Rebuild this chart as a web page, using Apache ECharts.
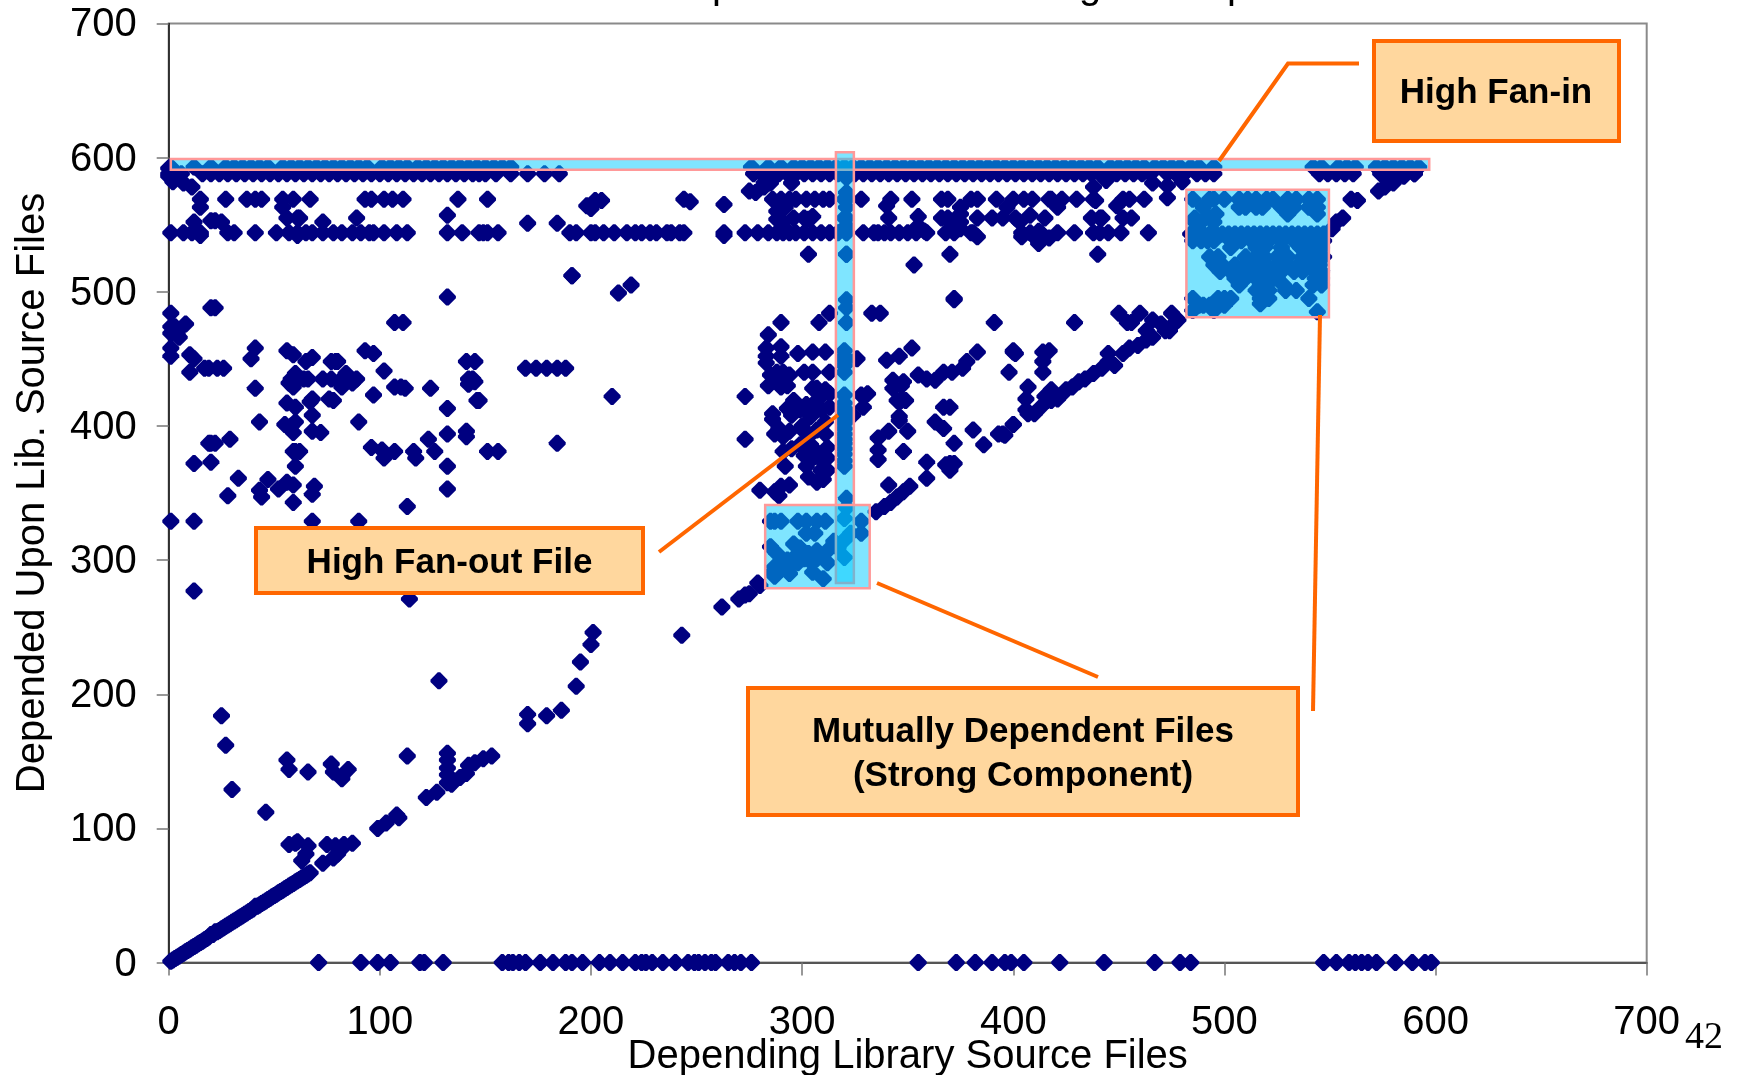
<!DOCTYPE html>
<html><head><meta charset="utf-8">
<style>html,body{margin:0;padding:0;background:#fff}#c{width:1738px;height:1075px}</style>
<script src="https://cdn.jsdelivr.net/npm/echarts@6/dist/echarts.min.js"></script>
</head><body><div id="c"></div>
<script>
const xTicks=[0,100,200,300,400,500,600,700];
const xTitle='Depending Library Source Files';
const yTitle='Depended Upon Lib. Source Files';
// dependency rows (x values for one y)
const row593=[1,12,20,27,31,35,39,43,47,54,58,62,66,70,74,78,82,86,90,94,101,105,109,113,118,122,126,130,134,138,142,146,150,154,158,162,276,284,290,296,300,304,308,312,316,320,324,328,332,336,340,344,348,352,356,360,364,368,372,376,380,384,388,392,396,400,404,408,412,416,420,424,428,432,436,440,446,450,454,458,462,467,471,475,479,484,488,495,542,546,554,558,562,572,576,580,584,588,592];
const row588=[0,3,6,16,20,24,28,32,36,40,44,48,52,56,60,64,68,72,76,80,84,88,92,96,100,104,108,112,116,120,124,128,132,136,140,144,147,150,155,162,170,178,185,277,281,285,289,293,297,301,305,309,313,317,321,325,329,333,337,341,345,349,353,357,361,365,369,373,377,381,385,389,393,397,401,405,409,413,417,421,425,429,433,437,441,445,449,453,457,461,465,473,477,481,487,491,495,545,549,553,557,561,574,578,582,586,590];
const row569=[15,27,37,41,44,54,59,67,93,96,102,106,111,137,151,244,286,290,294,297,302,306,310,313,320,328,342,352,366,369,380,383,392,400,405,409,418,417,423,430,452,455,462,438];
const row555=[56,61,62,89,301,296,320,341,366,369,383,401,415,437,441,452,456,390,395];
const row544=[1,7,11,15,28,31,41,51,57,61,65,68,73,78,82,87,91,95,97,102,108,113,132,139,147,149,151,156,190,193,200,202,206,211,217,221,224,228,231,236,238,242,244,263,273,279,284,288,291,294,297,301,305,309,313,317,321,329,334,336,339,342,346,350,354,359,368,372,380,404,408,413,421,429,438,441,445,451,464];
const row0=[71,91,99,105,119,121,130,158,161,163,166,169,176,182,188,191,196,204,209,215,221,224,226,229,234,240,246,249,251,254,257,259,265,268,271,276,355,373,382,390,396,399,405,422,443,467,479,484,547,553,559,562,565,568,572,581,589,595,598];
const row443=[169,174,179,184,188];
const topCluster=[[0,592],[0,586],[2,582],[7,581],[11,578],[15,563],[54,563],[12,552],[20,553],[22,553],[25,552],[73,552],[132,557],[15,542],[61,542],[170,551],[184,551],[198,564],[200,562],[202,568],[205,568],[191,512],[219,505],[213,499],[247,567],[263,565],[263,542],[282,581],[278,574],[282,586],[285,581],[282,578],[340,564],[288,560],[292,563],[288,554],[291,552],[303,554],[305,556],[355,556],[355,549],[375,563],[375,558],[375,552],[375,547],[381,544],[383,541],[397,563],[403,552],[408,557],[404,541],[410,541],[414,541],[417,540],[412,545],[412,536],[438,578],[439,568],[444,583],[466,581],[473,579],[480,582],[473,570],[421,563],[449,564],[442,555],[303,528],[321,528],[370,528],[353,520],[372,495],[440,528],[295,581],[275,575],[553,552],[556,555],[551,547],[560,569],[563,568],[573,575],[576,578],[580,581],[585,586],[590,588],[132,496],[358,545],[370,552]];
const fanOutColumn=[[321,585],[321,574],[321,569],[321,563],[321,555],[321,549],[321,544],[321,528],[321,494],[321,488],[321,477],[320,456],[320,452],[320,449],[320,445],[320,440],[320,423],[320,417],[320,413],[320,409],[320,405],[320,402],[320,398],[320,394],[320,390],[320,387],[320,383],[320,379],[320,374],[320,370],[321,346],[321,339]];
const leftCluster=[[1,484],[20,488],[22,488],[1,474],[3,474],[8,476],[1,469],[5,466],[4,469],[1,458],[1,452],[10,453],[12,450],[10,440],[17,443],[19,443],[23,443],[26,443],[41,458],[39,450],[41,428],[43,403],[56,456],[59,453],[65,448],[68,451],[79,448],[77,448],[80,448],[93,456],[97,454],[102,441],[107,477],[111,477],[58,435],[60,439],[64,435],[66,435],[59,429],[57,432],[73,435],[77,435],[82,435],[84,439],[82,429],[87,432],[88,434],[89,435],[56,417],[60,414],[68,420],[67,418],[76,420],[78,419],[97,423],[68,408],[90,403],[55,401],[58,400],[60,403],[59,395],[68,396],[72,395],[20,387],[22,387],[19,387],[29,390],[107,429],[110,429],[112,428],[124,428],[132,413],[60,381],[59,381],[62,381],[60,370],[12,372],[20,373],[96,384],[101,382],[102,376],[107,381],[116,381],[117,376],[123,390],[126,381],[132,394],[141,396],[141,392],[132,370],[132,353],[33,361],[47,360],[43,352],[44,347],[52,353],[56,358],[59,356],[69,355],[68,349],[59,343],[28,348],[113,340],[1,329],[12,329],[68,329],[90,329],[141,448],[145,448],[142,435],[145,433],[142,431],[146,419],[144,435],[147,419],[151,381],[156,381],[210,422],[184,387],[273,422],[273,390],[191,512],[114,271],[12,277]];
const midCluster=[[290,477],[308,477],[313,484],[333,484],[337,484],[391,477],[372,494],[284,468],[283,458],[283,452],[283,447],[290,459],[290,452],[298,454],[305,455],[311,455],[326,450],[313,440],[340,449],[346,452],[352,458],[383,455],[400,455],[417,456],[414,455],[414,448],[414,440],[398,440],[355,438],[359,435],[363,434],[367,440],[371,440],[376,443],[378,448],[343,434],[348,433],[343,428],[347,430],[285,438],[288,440],[291,440],[294,438],[301,440],[305,440],[284,430],[290,429],[293,430],[288,433],[291,433],[307,428],[311,427],[313,424],[309,422],[305,428],[328,423],[331,424],[329,414],[324,408],[347,419],[349,419],[345,419],[346,407],[346,404],[367,414],[370,414],[363,403],[367,398],[381,397],[393,394],[395,394],[386,386],[400,401],[341,396],[350,396],[336,391],[336,382],[336,375],[348,381],[372,387],[359,373],[359,361],[370,372],[368,371],[372,372],[370,367],[341,356],[286,409],[286,405],[296,419],[293,413],[299,412],[307,419],[309,412],[313,414],[304,407],[311,403],[289,398],[287,394],[294,396],[291,392],[301,396],[307,397],[311,394],[291,381],[295,383],[292,370],[306,382],[309,375],[306,377],[312,384],[302,370],[309,367],[303,362],[307,358],[312,367],[280,352],[287,351],[290,355],[294,356],[289,348],[300,400],[303,392],[299,386],[304,386],[301,378],[312,376],[310,360],[296,415],[302,416],[295,408],[305,410]];
const smallBlock=[[285,329],[287,329],[290,329],[298,329],[302,329],[307,329],[311,329],[320,331],[328,329],[328,320],[306,320],[302,320],[285,310],[296,312],[288,305],[299,309],[293,300],[303,305],[307,307],[312,307],[315,314],[287,295],[290,293],[287,288],[294,290],[298,298],[305,291],[310,286],[312,298],[320,302],[320,315],[323,320],[293,293],[286,291],[291,297],[301,301],[297,303],[307,301],[304,299],[317,309]];
const bigBlockA=[[485,569],[493,569],[495,569],[500,569],[507,569],[511,569],[515,569],[520,569],[523,569],[530,569],[534,569],[540,569],[544,569],[490,563],[507,563],[510,563],[515,563],[518,563],[527,563],[533,563],[540,563],[544,563],[496,558],[530,558],[544,558],[486,555],[493,555],[486,552],[489,552],[495,552]];
const bigBlockB=[484,487,490,493,496,499,502,505,508,511,514,517,520,523,526,529,532,535,538,541,544,547];
const bigBlockC=[[485,538],[489,538],[492,538],[495,538],[503,538],[508,538],[513,538],[517,538],[521,538],[527,538],[533,538],[539,538],[544,538],[547,538],[503,533],[515,533],[519,533],[527,533],[536,533],[541,533],[546,533],[493,526],[497,526],[510,526],[515,526],[519,526],[525,526],[530,526],[537,526],[543,526],[547,526],[495,520],[499,520],[505,520],[510,520],[515,520],[520,520],[525,520],[530,520],[535,520],[540,520],[545,520],[498,515],[503,515],[508,515],[513,515],[517,515],[522,515],[527,515],[533,515],[537,515],[543,515],[546,515],[505,510],[510,510],[515,510],[520,510],[525,510],[543,510],[546,510],[507,505],[517,505],[520,505],[528,505],[542,505],[546,505],[515,501],[521,501],[529,501],[534,501],[517,495],[521,495],[540,495],[517,491],[544,485],[485,495],[490,490],[485,486],[495,486],[497,495],[500,495],[493,490],[500,490],[503,495],[488,490]];
const diagonal=[[1,1],[2,2],[3,3],[4,4],[5,5],[6,6],[7,7],[8,8],[9,9],[10,10],[11,11],[12,12],[13,13],[14,14],[15,15],[16,16],[17,17],[18,18],[19,19],[20,21],[21,21],[22,23],[23,23],[24,24],[25,25],[26,26],[27,27],[28,28],[29,29],[30,30],[31,31],[32,32],[33,33],[34,34],[35,35],[36,36],[37,37],[38,38],[39,39],[40,40],[41,42],[42,42],[43,43],[44,44],[45,45],[46,46],[47,47],[48,48],[49,49],[50,50],[51,51],[52,52],[53,53],[54,54],[55,55],[56,56],[57,57],[58,58],[59,59],[60,60],[61,61],[62,62],[63,63],[64,64],[65,65],[66,66],[67,67],[73,74],[63,76],[65,81],[60,89],[61,90],[66,87],[57,88],[75,88],[78,78],[79,87],[82,85],[83,88],[87,89],[80,81],[99,100],[103,104],[108,110],[109,108],[122,123],[127,127],[132,156],[132,151],[132,145],[132,140],[132,134],[134,133],[138,138],[141,141],[142,147],[145,149],[149,152],[153,154],[170,185],[170,178],[179,184],[186,188],[193,206],[195,224],[200,237],[201,246],[243,244],[262,265],[270,271],[273,274],[280,281],[279,283],[275,275],[335,336],[339,340],[342,343],[345,347],[348,351],[351,355],[396,393],[400,401],[407,409],[410,409],[413,414],[416,423],[418,419],[421,420],[424,425],[428,429],[431,433],[434,435],[438,439],[442,443],[445,454],[445,448],[448,445],[452,454],[455,458],[459,460],[463,464],[466,466],[407,429],[406,420],[406,412],[415,422],[418,427],[421,422],[425,427],[401,454],[400,456],[450,484],[454,477],[460,484],[456,477],[466,479],[463,471],[475,484],[478,479],[474,471],[470,476],[472,471],[476,476],[429,477]];
const lowOutliers=[[25,184],[27,162],[30,129],[46,112],[56,151],[57,144],[66,142],[77,148],[78,142],[82,137],[85,144],[113,154],[128,210]];
// highlighted regions: [x1,y1,x2,y2]
const fanInRegion=[1,599,597,591];
const fanOutRegion=[316,604,324.5,283];
const strongRegionA=[282.5,341,332,279];
const strongRegionB=[482,576,549.5,481];
// call-out leader lines and boxes
const calloutStyle={fill:'#FFD79E',stroke:'#FF6600',lineWidth:4};
const boxes=[
 {rect:[1374,41,245,100],text:'High Fan-in',cx:1496,cy:93.5},
 {rect:[256,528,387,65],text:'High Fan-out File',cx:449.5,cy:563},
 {rect:[748,688,550,127],text:'Mutually Dependent Files\n(Strong Component)',cx:1023,cy:754.5}
];
const leaders=[
 [[1219,161],[1288,63.5],[1359,63.5]],
 [[659,552],[838,415]],
 [[877,583],[1098,677]],
 [[1320,315],[1313,711]]
];
const titleBits=[['p',712],['g',1079],['p',1227]];

const toRow=(xs,y)=>xs.map(x=>[x,y]);
const points=[].concat(
 toRow(row593,593),toRow(row588,588),toRow(row569,569),toRow(row555,555),toRow(row544,544),toRow(row0,0),toRow(row443,443),
 toRow(bigBlockB,543),topCluster,fanOutColumn,leftCluster,midCluster,smallBlock,bigBlockA,bigBlockC,diagonal,lowOutliers);
const region=r=>[{xAxis:r[0],yAxis:r[1]},{xAxis:r[2],yAxis:r[3]}];

const graphics=[];
boxes.forEach(b=>{
 graphics.push({type:'rect',z:100,shape:{x:b.rect[0],y:b.rect[1],width:b.rect[2],height:b.rect[3]},style:calloutStyle});
 graphics.push({type:'text',z:101,x:b.cx,y:b.cy,style:{text:b.text,fill:'#000',font:'bold 35px "Liberation Sans",Arial,sans-serif',align:'center',verticalAlign:'middle',lineHeight:44.5}});
});
leaders.forEach(l=>graphics.push({type:'polyline',z:102,shape:{points:l},style:{stroke:'#FF6600',lineWidth:4,fill:null}}));
titleBits.forEach(t=>graphics.push({type:'text',z:1,x:t[1],y:-13,style:{text:t[0],fill:'#000',font:'40px "Liberation Sans",Arial,sans-serif',align:'left',verticalAlign:'middle'}}));
graphics.push({type:'text',z:1,x:1704,y:1038,style:{text:'42',fill:'#000',font:'38px "Liberation Serif","Times New Roman",serif',align:'center',verticalAlign:'middle'}});

const font='"Liberation Sans",Arial,sans-serif';
const axisBase={type:'value',min:0,max:700,interval:100,splitLine:{show:false},
 axisLabel:{fontFamily:font,fontSize:40,color:'#000'},
 nameLocation:'middle',nameMoveOverlap:false,nameTextStyle:{fontFamily:font,fontSize:40,color:'#000'}};
const chart=echarts.init(document.getElementById('c'),null,{renderer:'canvas'});
chart.setOption({
 animation:false,backgroundColor:'#fff',
 grid:{left:168.7,top:23.4,width:1478,height:939.2,show:true,borderColor:'#8a8a8a',borderWidth:2,backgroundColor:'transparent',containLabel:false,outerBoundsMode:'none'},
 xAxis:Object.assign({},axisBase,{name:xTitle,nameGap:74,
  axisLine:{show:true,onZero:false,lineStyle:{color:'#555',width:2}},
  axisTick:{show:true,length:13,lineStyle:{color:'#777',width:1.5}},
  axisLabel:Object.assign({},axisBase.axisLabel,{margin:40,formatter:v=>xTicks.includes(v)?String(v):''})}),
 yAxis:Object.assign({},axisBase,{name:yTitle,nameGap:116,
  axisLine:{show:true,onZero:false,lineStyle:{color:'#111',width:1.5}},
  axisTick:{show:true,length:12,lineStyle:{color:'#777',width:1.5}},
  axisLabel:Object.assign({},axisBase.axisLabel,{margin:32,verticalAlign:'top',lineHeight:4})}),
 series:[{type:'scatter',data:points,symbol:'path://M43,1 L57,1 L99,43 L99,57 L57,99 L43,99 L1,57 L1,43 Z',symbolSize:[17,17],clip:false,silent:true,
  itemStyle:{color:'#000080',opacity:1},
  markArea:{silent:true,z:5,itemStyle:{color:'rgba(0,204,255,0.5)',borderColor:'#FF9999',borderWidth:2.5},
   data:[region(fanInRegion),region(fanOutRegion),region(strongRegionA),region(strongRegionB)]}}],
 graphic:graphics
});
</script></body></html>
